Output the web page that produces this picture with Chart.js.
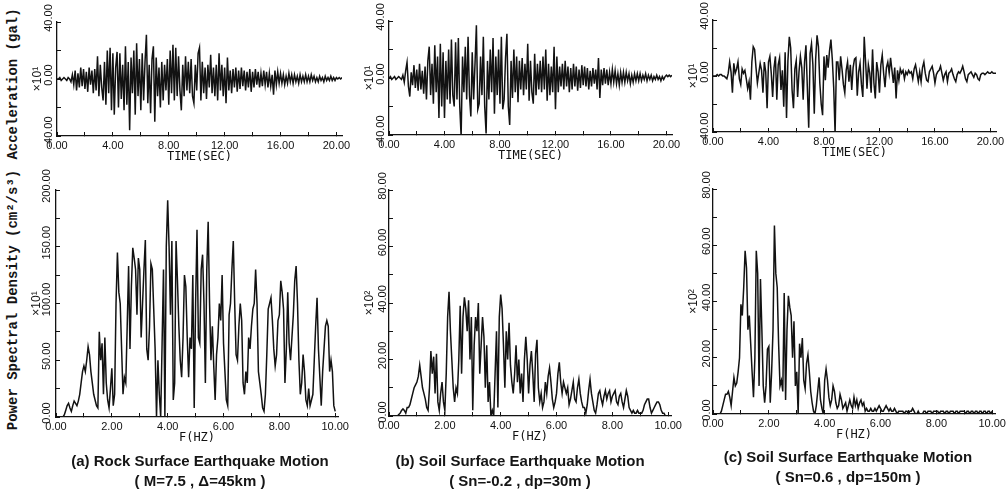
<!DOCTYPE html>
<html>
<head>
<meta charset="utf-8">
<script src="https://cdn.jsdelivr.net/npm/chart.js@4.4.0/dist/chart.umd.min.js"></script>
<style>
  html, body { margin: 0; padding: 0; background: #fff; }
  #page { position: relative; width: 1006px; height: 495px; overflow: hidden; background: #fff; }
  canvas { position: absolute; }
  .side {
    position: absolute; transform: translate(-50%, -50%) rotate(-90deg);
    white-space: nowrap; font: bold 14px "Liberation Mono", monospace; color: #151515;
  }
  .cap {
    position: absolute; width: 340px; text-align: center; color: #151515;
    font: bold 15px "Liberation Sans Narrow", sans-serif; line-height: 20px; white-space: nowrap;
  }
</style>
</head>
<body>
<div id="page">
  <div class="side" style="left:13px; top:84px;">Acceleration (gal)</div>
  <div class="side" style="left:13px; top:300px;">Power Spectral Density (cm²/s³)</div>

  <canvas id="accA"></canvas>
  <canvas id="accB"></canvas>
  <canvas id="accC"></canvas>
  <canvas id="psdA"></canvas>
  <canvas id="psdB"></canvas>
  <canvas id="psdC"></canvas>

  <div class="cap" style="left:30px; top:451px;">(a) Rock Surface Earthquake Motion<br>( M=7.5 , Δ=45km )</div>
  <div class="cap" style="left:350px; top:451px;">(b) Soil Surface Earthquake Motion<br>( Sn=-0.2 , dp=30m )</div>
  <div class="cap" style="left:678px; top:447px;">(c) Soil Surface Earthquake Motion<br>( Sn=0.6 , dp=150m )</div>
</div>

<script>
// sampling steps of the digitised records
const ACC_DT = 0.1;   // s
const PSD_DF = 0.05;  // Hz

// acceleration records (x10 gal), 0 .. 20.4 s
const accRock = [
  0, 0, 1, -1, 0, 1, 0, -1, 1, 0,
  -2, 3, -4, 6, -8, 4, -6, 8, -5, 7,
  -7, 5, -9, 8, -4, 6, -10, 7, -8, 16,
  -12, 10, -6, -15, 12, -18, 20, -10, 22, -22,
  18, -25, 8, 19, -20, 18, -14, 10, -22, 23,
  -18, 12, -36, 15, -10, 20, -25, 25, -12, 14,
  -22, 18, -15, 12, 31, -17, 10, -24, 14, 23,
  -30, 15, -12, 8, -20, 12, -15, 10, -8, 14,
  -18, 20, -10, 24, -15, 22, -12, 16, -8, -22,
  10, -12, 16, -8, 12, -10, 14, -12, -17, 10,
  -8, 18, 22, -15, 12, -10, 8, -14, 10, -6,
  17, -10, 8, -12, 10, -15, 18, -8, 10, -12,
  8, -17, 15, -8, 6, -10, 7, -6, 8, -9,
  6, -7, 8, -5, 6, -8, 5, -6, 7, -9,
  5, -6, 7, -4, 5, -6, 4, -5, 6, -4,
  5, -6, 4, -5, 3, -11, 6, -4, 5, -3,
  4, -3, 3, -4, 2, -3, 4, -2, 3, -3,
  3, -2, 2, -3, 3, -2, 2, -2, 3, -2,
  2, -2, 3, -1, 2, -2, 1, -2, 2, -1,
  1, -2, 2, -1, 1, -1, 2, -1, 1, -1,
  1, 0, 1, 0, 1
];
const accSoilB = [
  0, 1, -1, 0, 1, -1, 0, 1, 0, -1,
  2, -3, 5, 11, -6, -13, 4, -5, 9, -7,
  6, -9, 10, -8, 5, -11, 8, -15, 12, 22,
  -12, 10, -18, 23, -10, 15, -28, 24, -20, 18,
  -28, 12, -15, 20, -18, 27, -12, -20, 25, -15,
  28, -20, -41, 15, -10, 22, -15, 29, -12, -27,
  18, -15, 10, 37, -22, -18, 15, -12, 29, -20,
  -39, 12, -15, 20, -10, 28, -25, 15, -12, 20,
  -18, 29, -22, -15, 14, 31, -20, -33, 12, -14,
  20, -10, 15, -17, 12, -8, 14, -12, 10, -8,
  24, -16, 12, -10, -18, 17, -12, 10, -8, 12,
  -10, 15, -8, 20, -16, 10, -12, 8, -10, 22,
  -22, 15, -10, 8, -6, 10, -8, 12, -6, 8,
  -10, 7, -8, 10, -6, 8, -9, 6, -7, 9,
  -5, 8, -6, 7, -8, 5, -6, 7, -4, 6,
  -8, 14, -14, 6, -5, 7, -4, 6, -5, 4,
  -4, 6, -3, 5, -4, 3, -5, 4, -3, 4,
  -3, 4, -2, 3, -4, 2, -3, 3, -2, 3,
  -2, 3, -2, 2, -1, 3, -2, 2, -1, 2,
  -2, 1, -1, 2, -1, 1, -2, 1, -1, 1,
  2, 1, 2, 1, 2
];
const accSoilC = [
  0, 0, 0, 1, 0, 1, 1, 0, 0, -1,
  -2, 2, 10, 3, -12, 9, 2, 5, 10, -2,
  -6, 5, 2, 4, -2, -9, -4, -17, 10, 21,
  19, 6, -5, 2, 9, 4, -12, 10, 3, -23,
  10, 14, 2, -15, 6, 14, -17, 8, 13, -10,
  4, -22, 17, -30, 11, 28, 20, -10, -23, 5,
  11, -15, 3, 14, 6, -17, 10, 22, -8, -37,
  16, 23, 8, -27, 12, 29, 21, -5, -20, -28,
  14, -3, 15, 6, 18, 26, 12, -8, -41, 10,
  10, -3, 14, 5, -6, -12, 4, 10, -4, 8,
  -10, 6, 12, 13, -14, 3, 9, -6, -15, 28,
  10, -9, 8, 2, -12, 19, -5, -16, 10, 3,
  -12, 8, 15, 2, -8, 6, 10, 2, 13, 4,
  -5, 6, -16, 4, -3, 5, 2, 4, -2, 3,
  1, 4, 2, 3, -2, 5, 8, 2, -4, 3,
  -4, 6, 10, 2, -3, -4, 3, 5, 7, 2,
  -5, 1, 3, 4, 7, 2, -3, 1, 3, -4,
  2, 3, 5, 1, -2, -4, 1, 3, 2, 4,
  7, 3, -2, -4, 1, 2, 3, 1, -1, 2,
  1, -2, -3, 1, 2, 2, 1, 2, 3, 2,
  2, 3, 2, 2, 2
];

// power spectral densities, 0 .. 10 Hz
const psdRock = [
  0, 0, 0, 0, 0, 0, 2, 6, 10, 12,
  8, 5, 10, 14, 12, 10, 14, 20, 30, 40,
  45, 40, 50, 62, 55, 40, 30, 20, 15, 10,
  8, 75, 50, 65, 20, 70, 30, 15, 8, 25,
  43, 10, 20, 100, 145, 110, 100, 60, 20, 35,
  30, 80, 133, 60, 115, 149, 140, 130, 90, 140,
  130, 70, 100, 130, 156, 60, 50, 80, 135, 130,
  95, 60, 0, 50, 20, 0, 65, 130, 0, 150,
  191, 150, 90, 155, 15, 30, 155, 120, 80, 50,
  35, 70, 125, 115, 70, 35, 70, 60, 125, 8,
  100, 165, 70, 65, 130, 143, 100, 30, 130, 172,
  100, 50, 80, 45, 15, 55, 70, 100, 85, 125,
  65, 40, 15, 10, 90, 100, 130, 155, 100, 55,
  50, 80, 100, 85, 30, 20, 40, 30, 70, 60,
  80, 95, 100, 130, 100, 40, 30, 20, 8, 5,
  20, 55, 95, 100, 105, 85, 60, 45, 55, 85,
  90, 120, 110, 95, 30, 60, 110, 65, 50, 70,
  90, 120, 133, 100, 50, 20, 30, 55, 40, 15,
  10, 25, 10, 15, 20, 50, 80, 105, 60, 35,
  10, 40, 60, 80, 85, 80, 40, 50, 40, 10,
  5
];
const psdSoilB = [
  0, 0, 0, 0, 0, 0, 0, 0.5, 1, 2,
  2.5, 2, 1, 3, 3, 4, 6, 8, 10, 11,
  12, 14, 18, 14, 10, 8, 6, 3, 2, 10,
  23, 15, 21, 8, 22, 5, 2, 8, 12, 5,
  2, 15, 35, 44, 30, 20, 10, 5, 10, 8,
  20, 39, 15, 35, 42, 38, 30, 41, 20, 35,
  2, 25, 35, 30, 40, 15, 25, 35, 28, 10,
  25, 5, 12, 0, 2, 0, 15, 30, 3, 35,
  43, 38, 25, 10, 30, 20, 33, 18, 12, 8,
  15, 25, 12, 20, 8, 15, 5, 20, 28, 20,
  8, 18, 23, 15, 5, 22, 27, 10, 5, 8,
  3, 5, 12, 8, 14, 17, 12, 6, 3, 5,
  8, 15, 19, 12, 8, 12, 10, 8, 10, 4,
  6, 9, 12, 6, 5, 10, 13, 8, 5, 3,
  3, 1, 4, 9, 13, 8, 5, 2, 1, 4,
  8, 9, 6, 4, 7, 9, 6, 8, 9, 5,
  7, 8, 9, 5, 4, 7, 8, 5, 3, 6,
  9, 7, 3, 2, 1, 2, 1, 1, 2, 1,
  1, 1, 2, 4, 5, 6, 6, 3, 1, 2,
  3, 4, 5, 5, 4, 2, 1, 1, 0, 0,
  0
];
const psdSoilC = [
  0, 0, 0, 0, 0, 0, 1, 3, 5, 7,
  7, 8, 6, 3, 8, 13, 10, 11, 15, 20,
  39, 35, 45, 58, 52, 30, 35, 25, 15, 6,
  20, 58, 50, 10, 48, 30, 10, 4, 10, 23,
  24, 4, 15, 30, 67, 50, 45, 25, 10, 12,
  8, 43, 5, 30, 42, 38, 35, 20, 33, 10,
  15, 0, 25, 20, 27, 12, 9, 18, 21, 15,
  8, 4, 1, 0, 3, 8, 13, 5, 2, 0,
  12, 16, 12, 6, 3, 5, 10, 8, 4, 2,
  3, 7, 5, 2, 3, 4, 1, 3, 5, 3,
  2, 6, 3, 5, 2, 4, 5, 3, 4, 1,
  2, 1, 1, 2, 1, 1, 2, 1, 2, 3,
  2, 1, 1, 2, 3, 2, 1, 2, 1, 1,
  2, 1, 0, 1, 1, 1, 1, 0, 1, 1,
  0, 1, 1, 2, 1, 0, 0, 1, 0, 0,
  0, 1, 1, 0, 1, 1, 1, 0, 1, 1,
  1, 1, 0, 1, 1, 1, 0, 1, 1, 0,
  1, 1, 1, 0, 1, 1, 0, 1, 1, 1,
  1, 0, 1, 1, 0, 1, 1, 0, 1, 1,
  0, 1, 1, 0, 1, 1, 0, 1, 1, 0,
  1
];

// labelled ticks
const timeLabels = [0, 4, 8, 12, 16, 20];
const freqLabels = [0, 2, 4, 6, 8, 10];
const accLabels = [-40, 0, 40];
const psdRockLabels = [0, 50, 100, 150, 200];
const psdSoilLabels = [0, 20, 40, 60, 80];

const INK = '#121212';
const TICK_FONT = { family: '"Liberation Sans Narrow", sans-serif', size: 11 };
const TITLE_FONT = { family: '"DejaVu Sans Mono", monospace', size: 12 };

function toPoints(values, step) {
    return values.map((v, i) => ({ x: +(i * step).toFixed(3), y: v }));
}

function onlyLabels(list) {
    return v => list.some(l => Math.abs(l - v) < 1e-6) ? v.toFixed(2) : '';
}

function drawPanel(id, box, values, step, xAxis, yAxis) {
    const yW = 27, padL = 13, padR = 22, xH = 28;
    const canvas = document.getElementById(id);
    canvas.width = padL + yW + box.w + padR;
    canvas.height = box.pt + box.h + xH;
    canvas.style.left = (box.x - yW - padL) + 'px';
    canvas.style.top = box.top + 'px';

    const tickMarks = { drawOnChartArea: false, drawTicks: true, tickLength: -4, color: INK, lineWidth: 1 };
    const axisLine = { display: true, color: INK, width: 1.3 };

    new Chart(canvas, {
        type: 'line',
        data: {
            datasets: [{
                data: toPoints(values, step),
                borderColor: INK,
                borderWidth: 1.5,
                pointRadius: 0,
                tension: 0,
                fill: false
            }]
        },
        options: {
            responsive: false,
            animation: false,
            events: [],
            layout: { padding: { left: padL, top: box.pt, right: padR, bottom: 0 } },
            plugins: { legend: { display: false }, tooltip: { enabled: false } },
            scales: {
                x: {
                    type: 'linear', min: 0, max: xAxis.max,
                    grid: tickMarks, border: axisLine,
                    ticks: {
                        stepSize: xAxis.step, autoSkip: false, includeBounds: false,
                        minRotation: 0, maxRotation: 0, padding: 7,
                        color: INK, font: TICK_FONT, callback: onlyLabels(xAxis.labels)
                    },
                    title: { display: true, text: xAxis.title, color: INK, font: TITLE_FONT, padding: 0 },
                    afterFit: s => { s.height = xH; }
                },
                y: {
                    type: 'linear', min: yAxis.min, max: yAxis.max,
                    grid: tickMarks, border: axisLine,
                    ticks: {
                        stepSize: yAxis.step, autoSkip: false, includeBounds: false,
                        minRotation: 90, maxRotation: 90, crossAlign: 'center', padding: -4, labelOffset: -4,
                        color: INK, font: TICK_FONT, callback: onlyLabels(yAxis.labels)
                    },
                    title: { display: true, text: yAxis.title, color: INK, font: { family: TICK_FONT.family, size: 12 }, padding: 0 },
                    afterFit: s => { s.width = yW; }
                }
            }
        }
    });
}

const timeAxis = { max: 20.4, step: 2, labels: timeLabels, title: 'TIME(SEC)' };
const freqAxis = { max: 10.1, step: 1, labels: freqLabels, title: 'F(HZ)' };
const accAxis = { min: -40, max: 40, step: 20, labels: accLabels, title: '×10¹' };

drawPanel('accA', { x: 57, top: 0, pt: 22, w: 285, h: 114 }, accRock, ACC_DT, timeAxis, accAxis);
drawPanel('accB', { x: 389, top: 0, pt: 21, w: 283, h: 114 }, accSoilB, ACC_DT, timeAxis, accAxis);
drawPanel('accC', { x: 713, top: 0, pt: 20, w: 283, h: 112 }, accSoilC, ACC_DT, timeAxis, accAxis);

drawPanel('psdA', { x: 56, top: 160, pt: 30, w: 282, h: 227 }, psdRock, PSD_DF, freqAxis,
    { min: 0, max: 200, step: 25, labels: psdRockLabels, title: '×10¹' });
drawPanel('psdB', { x: 389, top: 160, pt: 30, w: 282, h: 226 }, psdSoilB, PSD_DF, freqAxis,
    { min: 0, max: 80, step: 10, labels: psdSoilLabels, title: '×10²' });
drawPanel('psdC', { x: 713, top: 160, pt: 29, w: 282, h: 225 }, psdSoilC, PSD_DF, freqAxis,
    { min: 0, max: 80, step: 10, labels: psdSoilLabels, title: '×10²' });
</script>
</body>
</html>
